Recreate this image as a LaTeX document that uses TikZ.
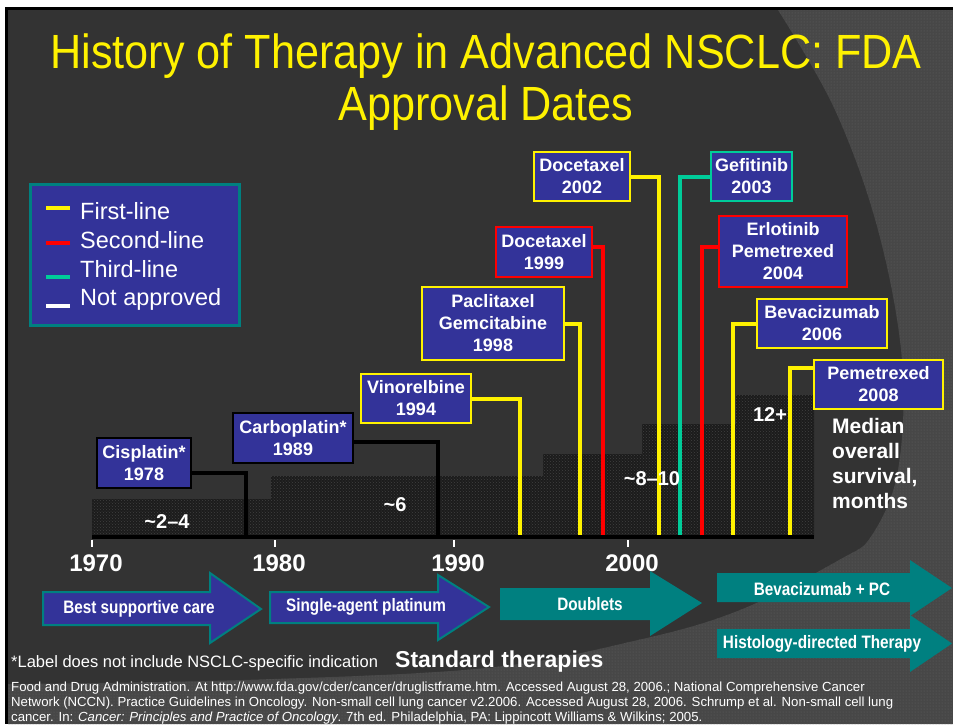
\documentclass[tikz,border=0pt]{standalone}
\usepackage{fontspec}
\setmainfont{Liberation Sans}
\newfontfamily\narrowfont[FakeStretch=0.9]{Liberation Sans}
\newfontfamily\condfont[FakeStretch=0.85]{Liberation Sans}
\usepackage{tikz}
\usetikzlibrary{calc, patterns}

\definecolor{slidebg}{HTML}{333333}
\definecolor{dotbg}{HTML}{474747}
\definecolor{dotfg}{HTML}{626262}
\definecolor{barbg}{HTML}{1C1C1C}
\definecolor{boxblue}{HTML}{333399}
\definecolor{arrowteal}{HTML}{008080}
\definecolor{thirdline}{HTML}{00CC99}

\begin{document}
\begin{tikzpicture}[x=1pt, y=-1pt,
		drug/.style={fill=boxblue, text=white, align=center, inner sep=0pt, line width=2pt,
			font=\bfseries\fontsize{18}{22}\selectfont},
		timeline/.style={line width=4pt},
		survival/.style={text=white, font=\bfseries\fontsize{20}{24}\selectfont},
		therapy/.style={text=white, font=\condfont\bfseries\fontsize{18}{22}\selectfont},
		legendtext/.style={text=white, anchor=base west, inner sep=0pt, font=\fontsize{23.5}{28}\selectfont},
		year/.style={text=white, anchor=base, font=\bfseries\fontsize{24}{28}\selectfont}]
		\useasboundingbox (0,0) rectangle (953,724);
		
		%slide background
		\fill[white] (0,0) rectangle (953,724);
		\fill[black] (5,7) rectangle (953,724);
		\fill[slidebg] (8,10) rectangle (953,724);
		\fill[dotbg] (778,10) -- plot[smooth, tension=0.6] coordinates {(778,10) (835,110) (878,230) (902,360) (898,470) (872,535) (839,560) (740,610) (638,640) (486,668) (243,680) (8,684)}
			-- (8,724) -- (953,724) -- (953,10) -- cycle;
		\fill[pattern=dots, pattern color=dotfg] (778,10) -- plot[smooth, tension=0.6] coordinates {(778,10) (835,110) (878,230) (902,360) (898,470) (872,535) (839,560) (740,610) (638,640) (486,668) (243,680) (8,684)}
			-- (8,724) -- (953,724) -- (953,10) -- cycle;
		
		%title (base = last line)
		\node[anchor=base, text=yellow, align=center, font=\narrowfont\fontsize{48}{52}\selectfont] (title) at (486,120)
			{History of Therapy in Advanced NSCLC: FDA\\Approval Dates};
		
		%legend
		\node[draw=arrowteal, line width=3pt, fill=boxblue, minimum width=209, minimum height=141, inner sep=0pt] (legend) at (135,255) {};
		\draw[timeline, yellow] (46,208) -- (70,208);
		\draw[timeline, red] (46,243) -- (70,243);
		\draw[timeline, thirdline] (46,277) -- (70,277);
		\draw[timeline, white] (46,306) -- (70,306);
		\node[legendtext] (first) at (80,219) {First-line};
		\node[legendtext] (second) at (80,248) {Second-line};
		\node[legendtext] (third) at (80,277) {Third-line};
		\node[legendtext] (notappr) at (80,305) {Not approved};
		
		%median survival steps
		\fill[barbg] (92,537) -- (92,499) -- (271,499) -- (271,476) -- (543,476) -- (543,454) -- (642,454)
			-- (642,424) -- (736,424) -- (736,395) -- (814,395) -- (814,537) -- cycle;
		\fill[pattern=crosshatch dots, pattern color=black!75] (92,537) -- (92,499) -- (271,499) -- (271,476) -- (543,476) -- (543,454) -- (642,454)
			-- (642,424) -- (736,424) -- (736,395) -- (814,395) -- (814,537) -- cycle;
		
		%coordinates on the axis
		\coordinate (t1978) at (246,537);
		\coordinate (t1989) at (438,537);
		\coordinate (t1994) at (520,537);
		\coordinate (t1998) at (580,537);
		\coordinate (t1999) at (603,537);
		\coordinate (t2002) at (659,537);
		\coordinate (t2003) at (680,537);
		\coordinate (t2004) at (702,537);
		\coordinate (t2006) at (733,537);
		\coordinate (t2008) at (790,537);
		
		%approvals
		\node[drug, draw=black, line width=1.5pt, minimum width=94, minimum height=50] (cis) at (144,463) {Cisplatin*\\1978};
		\node[drug, draw=black, line width=1.5pt, minimum width=120, minimum height=50] (carbo) at (293,438) {Carboplatin*\\1989};
		\node[drug, draw=yellow, minimum width=110, minimum height=49] (vino) at (416,398.5) {Vinorelbine\\1994};
		\node[drug, draw=yellow, minimum width=142, minimum height=73] (pacl) at (493,323.5) {Paclitaxel\\Gemcitabine\\1998};
		\node[drug, draw=red, minimum width=96, minimum height=50] (doc99) at (544,252) {Docetaxel\\1999};
		\node[drug, draw=yellow, minimum width=96, minimum height=49] (doc02) at (582,176.5) {Docetaxel\\2002};
		\node[drug, draw=thirdline, minimum width=81, minimum height=49] (gef) at (751.5,176.5) {Gefitinib\\2003};
		\node[drug, draw=red, minimum width=128, minimum height=71] (erl) at (783,251.5) {Erlotinib\\Pemetrexed\\2004};
		\node[drug, draw=yellow, minimum width=130, minimum height=49] (bev) at (822,323.5) {Bevacizumab\\2006};
		\node[drug, draw=yellow, minimum width=129, minimum height=49] (pem) at (878.5,384.5) {Pemetrexed\\2008};
		
		\draw[timeline, black] ([yshift=-10pt]cis.east) -| (t1978);
		\draw[timeline, black] ([yshift=-4pt]carbo.east) -| (t1989);
		\draw[timeline, yellow] (vino.east) -| (t1994);
		\draw[timeline, yellow] (pacl.east) -| (t1998);
		\draw[timeline, red] ([yshift=5pt]doc99.east) -| (t1999);
		\draw[timeline, yellow] (doc02.east) -| (t2002);
		\draw[timeline, thirdline] (gef.west) -| (t2003);
		\draw[timeline, red] ([yshift=4.5pt]erl.west) -| (t2004);
		\draw[timeline, yellow] (bev.west) -| (t2006);
		\draw[timeline, yellow] ([yshift=16.5pt]pem.west) -| (t2008);
		
		%axis
		\draw[black, line width=3.5pt] (92,537) -- (814,537);
		\foreach \x/\yr in {92/1970, 275/1980, 454/1990, 628/2000} {
			\draw[white, line width=2pt] (\x,540) -- (\x,547);
			\node[year] (y\yr) at (\x+4,571) {\yr};
		}
		
		%survival labels
		\node[survival] (os1) at (167,522) {\textasciitilde2–4};
		\node[survival] (os2) at (395,505) {\textasciitilde6};
		\node[survival] (os3) at (652,479) {\textasciitilde8–10};
		\node[survival] (os4) at (770,415) {12+};
		\node[text=white, anchor=base west, inner sep=0pt, align=left, font=\bfseries\fontsize{21}{25}\selectfont] (median) at (832,508)
			{Median\\overall\\survival,\\months};
		
		%standard therapies
		\filldraw[fill=boxblue, draw=arrowteal, line width=2pt] (43,592) -- (210,592) -- (210,573) -- (261,609) -- (210,643) -- (210,625) -- (43,625) -- cycle;
		\filldraw[fill=boxblue, draw=arrowteal, line width=2pt] (270,592) -- (438,592) -- (438,575) -- (489,607) -- (438,640) -- (438,623) -- (270,623) -- cycle;
		\fill[arrowteal] (500,588) -- (650,588) -- (650,571) -- (702,603) -- (650,636) -- (650,620) -- (500,620) -- cycle;
		\fill[arrowteal] (717,573) -- (910,573) -- (910,560) -- (952,588) -- (910,616) -- (910,602) -- (717,602) -- cycle;
		\fill[arrowteal] (717,629) -- (910,629) -- (910,615) -- (952,643.5) -- (910,672) -- (910,658) -- (717,658) -- cycle;
		\node[therapy] (bsc) at (139,609) {Best supportive care};
		\node[therapy] (single) at (366,607) {Single-agent platinum};
		\node[therapy] (doublets) at (590,604) {Doublets};
		\node[therapy] (bevpc) at (822,589) {Bevacizumab + PC};
		\node[therapy] (histo) at (822,644) {Histology-directed Therapy};
		
		%footnotes
		\node[text=white, anchor=base west, inner sep=0pt, font=\fontsize{16.5}{20}\selectfont] (label) at (11,667)
			{*Label does not include NSCLC-specific indication};
		\node[text=white, anchor=base west, inner sep=0pt, font=\bfseries\fontsize{23}{26}\selectfont] (standard) at (395,667) {Standard therapies};
		\node[text=white, anchor=base west, align=left, inner sep=0pt, font=\fontsize{13.2}{15}\selectfont] (refs) at (11,721)
			{Food and Drug Administration. At http://www.fda.gov/cder/cancer/druglistframe.htm. Accessed August 28, 2006.; National Comprehensive Cancer\\
			Network (NCCN).  Practice Guidelines in Oncology. Non-small  cell lung cancer v2.2006. Accessed August 28, 2006. Schrump et al. Non-small cell lung\\
			cancer. In: \textit{Cancer: Principles and Practice of Oncology}. 7th ed. Philadelphia, PA: Lippincott Williams \& Wilkins; 2005.};
	\end{tikzpicture}
\end{document}
